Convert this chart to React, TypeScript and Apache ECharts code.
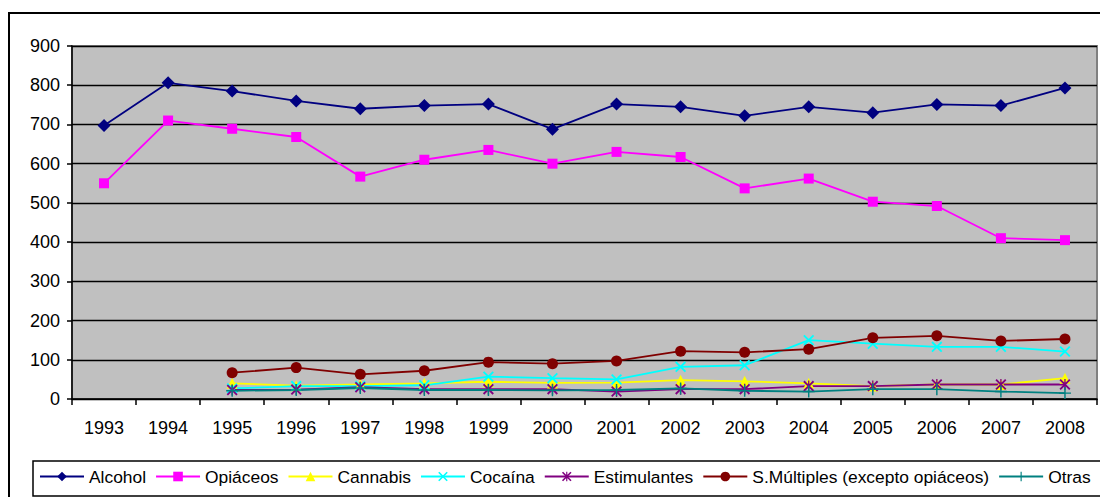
import React, { useEffect, useRef } from "react";
import * as echarts from "echarts";

const years = ["1993", "1994", "1995", "1996", "1997", "1998", "1999", "2000", "2001", "2002", "2003", "2004", "2005", "2006", "2007", "2008"];
const alcohol = [697, 806, 785, 760, 740, 748, 752, 688, 752, 745, 722, 745, 730, 751, 748, 793];
const opiaceos = [550, 710, 689, 668, 567, 610, 635, 600, 630, 617, 537, 562, 503, 492, 410, 405];
const cannabis = [null, null, 40, 34, 37, 40, 44, 41, 42, 48, 45, 40, 33, 37, 37, 53];
const cocaina = [null, null, 27, 33, 33, 35, 57, 53, 50, 82, 86, 150, 141, 133, 133, 121];
const estimulantes = [null, null, 23, 24, 30, 25, 25, 25, 19, 25, 25, 33, 33, 37, 37, 37];
const smultiples = [null, null, 67, 80, 63, 72, 94, 90, 97, 122, 119, 127, 156, 161, 148, 153];
const otras = [null, null, 21, 23, 28, 23, 23, 22, 23, 27, 21, 19, 25, 25, 19, 15];
const legendNames = ["Alcohol", "Opiáceos", "Cannabis", "Cocaína", "Estimulantes", "S.Múltiples (excepto opiáceos)", "Otras"];

const FONT = "'Liberation Sans', Arial, sans-serif";

const X_PATH = "path://M0,1.2 L1.2,0 L10,8.8 L8.8,10 Z M8.8,0 L10,1.2 L1.2,10 L0,8.8 Z";
const STAR_PATH = "path://M0,1.2 L1.2,0 L10,8.8 L8.8,10 Z M8.8,0 L10,1.2 L1.2,10 L0,8.8 Z M4.4,0 L5.6,0 L5.6,10 L4.4,10 Z";
const PLUS_PATH = "path://M4.4,0 L5.6,0 L5.6,10 L4.4,10 Z M0,4.4 L10,4.4 L10,5.6 L0,5.6 Z";

function mk(name: string, data: (number | null)[], color: string, symbol: string, size: number) {
  return {
    name,
    type: "line",
    data,
    symbol,
    symbolSize: size,
    showAllSymbol: true,
    connectNulls: false,
    lineStyle: { color, width: 1.8 },
    itemStyle: { color },
    emphasis: { disabled: true },
  };
}

export default function App() {
  const ref = useRef<HTMLDivElement>(null);
  useEffect(() => {
    if (!ref.current) return;
    const chart = echarts.init(ref.current, undefined, { renderer: "svg" });
    chart.setOption({
      animation: false,
      backgroundColor: "#ffffff",
      textStyle: { fontFamily: FONT },
      grid: {
        left: 72,
        top: 46,
        right: 3,
        bottom: 98,
        show: true,
        backgroundColor: "#c0c0c0",
        borderColor: "#808080",
        borderWidth: 2,
      },
      xAxis: {
        type: "category",
        data: years,
        boundaryGap: true,
        axisLine: { lineStyle: { color: "#000", width: 1.5 } },
        axisTick: { show: true, length: 6, lineStyle: { color: "#000", width: 1.5 } },
        axisLabel: { color: "#000", fontSize: 18, fontFamily: FONT, margin: 20 },
        splitLine: { show: false },
      },
      yAxis: {
        type: "value",
        min: 0,
        max: 900,
        interval: 100,
        axisLine: { show: true, lineStyle: { color: "#000", width: 1.5 } },
        axisTick: { show: true, length: 5, lineStyle: { color: "#000", width: 1.5 } },
        axisLabel: { color: "#000", fontSize: 18, fontFamily: FONT, margin: 12 },
        splitLine: { show: true, lineStyle: { color: "#000", width: 1.3 } },
      },
      legend: {
        left: 34,
        top: 463,
        width: 1400,
        itemWidth: 44,
        itemHeight: 12,
        itemGap: 9,
        textStyle: { color: "#000", fontSize: 17.4, fontFamily: FONT },
        data: legendNames,
      },
      graphic: [
        {
          type: "rect",
          silent: true,
          z: -10,
          shape: { x: 9, y: 13, width: 1200, height: 600 },
          style: { fill: "none", stroke: "#000", lineWidth: 2 },
        },
        {
          type: "rect",
          silent: true,
          shape: { x: 33, y: 461, width: 1200, height: 35 },
          style: { fill: "none", stroke: "#000", lineWidth: 1.5 },
        },
      ],
      series: [
        mk("Alcohol", alcohol, "#000080", "diamond", 13),
        mk("Opiáceos", opiaceos, "#ff00ff", "rect", 10),
        mk("Cannabis", cannabis, "#ffff00", "triangle", 11),
        mk("Cocaína", cocaina, "#00ffff", X_PATH, 11),
        mk("Estimulantes", estimulantes, "#800080", STAR_PATH, 11),
        mk("S.Múltiples (excepto opiáceos)", smultiples, "#800000", "circle", 11),
        mk("Otras", otras, "#008080", PLUS_PATH, 12),
      ],
    });
    return () => chart.dispose();
  }, []);
  return (
    <div
      ref={ref}
      style={{ position: "fixed", left: 0, top: 0, width: 1100, height: 497, background: "#fff" }}
    />
  );
}
